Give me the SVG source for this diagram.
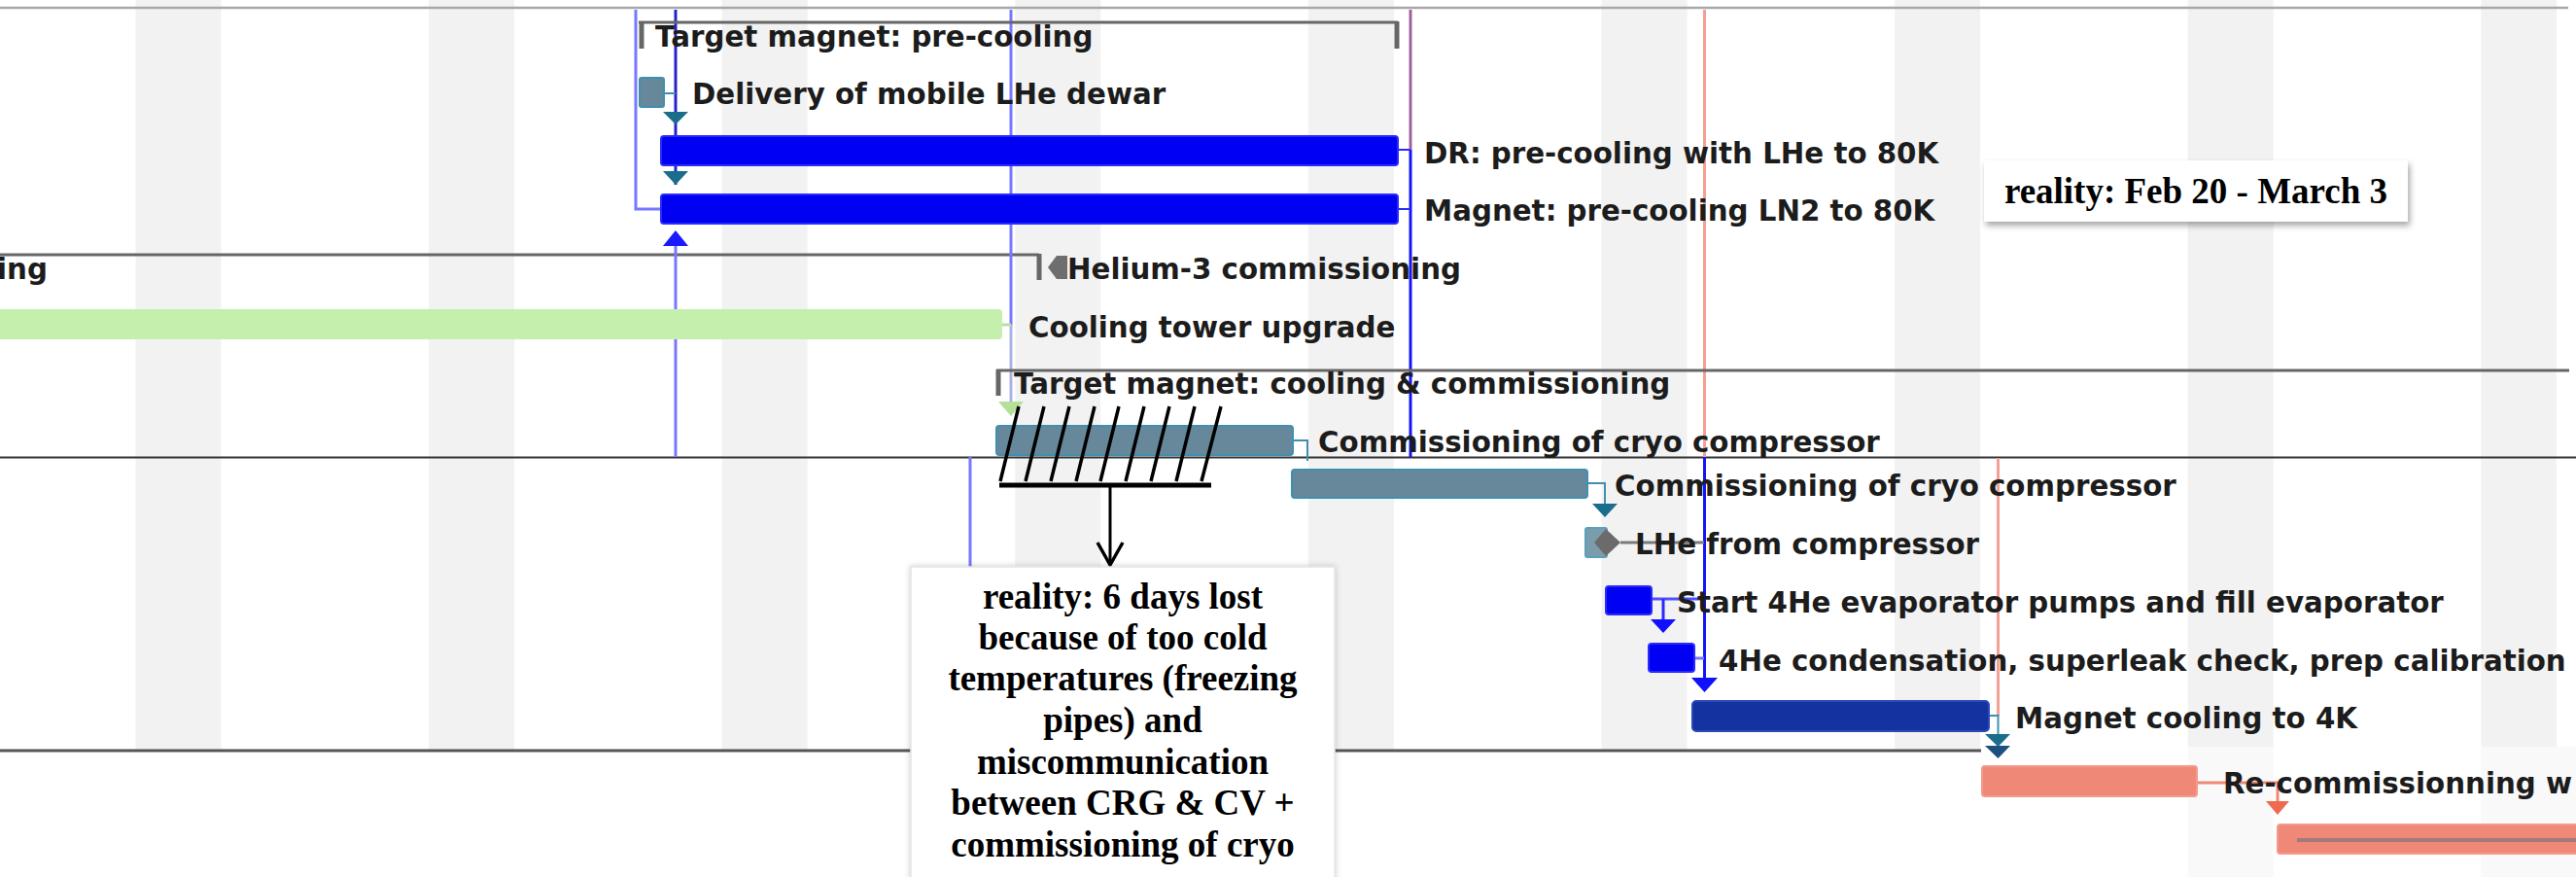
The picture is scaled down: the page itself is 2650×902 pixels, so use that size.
<svg xmlns="http://www.w3.org/2000/svg" width="2650" height="902" viewBox="0 0 2650 902">
<defs>
<style>
.lbl{font-family:"DejaVu Sans",Verdana,sans-serif;font-weight:bold;font-size:29.3px;fill:#1c1c1c}
.note{font-family:"Liberation Serif","Times New Roman",serif;font-weight:bold;font-size:37px;fill:#000;text-anchor:middle}
.stripe{fill:#f2f2f2}
.brk{stroke:#666;stroke-width:3;fill:none}
.tick{stroke:#666;stroke-width:5;fill:none}
.teal{fill:#66889a;stroke:#3f8fb0;stroke-width:2}
.blue{fill:#0000f2;stroke:#2a2aff;stroke-width:2}
.dblue{fill:#1432a0;stroke:#2a4ab8;stroke-width:2}
.salmon{fill:#f08878;stroke:#f39a8c;stroke-width:2}
.lb{stroke:#7777ff;stroke-width:3;fill:none}
.bl{stroke:#1414f5;stroke-width:3;fill:none}
.rd{stroke:#f2a193;stroke-width:3;fill:none}
.tl{stroke:#3f8fb0;stroke-width:2;fill:none}
.ahTeal{fill:#1b6d8c}
.ahBlue{fill:#1010ff}
.hatch{stroke:#000;stroke-width:3.5;fill:none}
</style>
<filter id="sh" x="-10%" y="-10%" width="130%" height="150%"><feDropShadow dx="2" dy="4" stdDeviation="3" flood-color="#000" flood-opacity="0.35"/></filter>
<filter id="sh2" x="-10%" y="-10%" width="130%" height="130%"><feDropShadow dx="0" dy="0" stdDeviation="3" flood-color="#000" flood-opacity="0.2"/></filter>
</defs>

<g id="background">
<rect x="0" y="0" width="2650" height="902" fill="#fff"/>
<rect class="stripe" x="139.5" y="0" width="88" height="902"/>
<rect class="stripe" x="441.1" y="0" width="88" height="902"/>
<rect class="stripe" x="742.7" y="0" width="88" height="902"/>
<rect class="stripe" x="1044.3" y="0" width="88" height="902"/>
<rect class="stripe" x="1345.9" y="0" width="88" height="902"/>
<rect class="stripe" x="1647.5" y="0" width="88" height="902"/>
<rect class="stripe" x="1949.1" y="0" width="88" height="902"/>
<rect class="stripe" x="2250.7" y="0" width="88" height="902"/>
<rect class="stripe" x="2552.3" y="0" width="98" height="902"/>
<rect x="2630" y="0" width="20" height="768" fill="#fff"/>
<rect x="0" y="773" width="2038" height="129" fill="#fff"/>
<rect x="2038" y="768" width="612" height="134" fill="#fff" opacity="0.55"/>
</g>

<g id="separators">
<path d="M0,8 H2642" stroke="#a8a8a8" stroke-width="2.5" fill="none"/>
<path d="M0,262 H1069" class="brk"/>
<path d="M1069,261 V288" class="tick"/>
<path d="M0,470.5 H2650" stroke="#333" stroke-width="2" fill="none"/>
<path d="M0,772 H2038" stroke="#555" stroke-width="3" fill="none"/>
</g>

<g id="connectors">
<path class="lb" d="M654,10 V215 H680"/>
<path d="M695,10 V190" stroke="#2323c8" stroke-width="3" fill="none"/>
<path class="tl" d="M683,96 H695"/>
<polygon class="ahTeal" points="682,115 708,115 695,128"/>
<polygon class="ahTeal" points="682,176 708,176 695,190"/>
<polygon fill="#1a1aff" points="682,253 708,253 695,237"/>
<path class="lb" d="M695,253 V470"/>
<path class="lb" d="M1040,10 V334"/>
<path d="M1040,334 V414" stroke="#aab2e2" stroke-width="3" fill="none"/>
<path d="M1031,334 H1040" stroke="#b8e0a0" stroke-width="3" fill="none"/>
<polygon fill="#b5e09a" points="1027,413 1053,413 1040,428"/>
<path class="lb" d="M998,470 V583"/>
<path d="M1451,10 V154" stroke="#a0609a" stroke-width="3" fill="none"/>
<path class="bl" d="M1451,154 V470"/>
<path d="M1438,154 H1451 M1438,215 H1451" stroke="#2a2aff" stroke-width="2" fill="none"/>
<path class="rd" d="M1753.5,10 V470"/>
<path class="bl" d="M1753.5,470 V697"/>
<polygon class="ahBlue" points="1740,697 1767,697 1753.5,712"/>
<path class="rd" d="M2055.5,471 V737"/>
<path class="tl" d="M2047,736 H2055.5 V756"/>
<polygon class="ahTeal" points="2042,755 2068,755 2055.5,768"/>
<polygon fill="#1b4f7e" points="2042,767 2068,767 2055.5,780"/>
<path class="tl" d="M1331,453 H1345 V474"/>
<path class="tl" d="M1634,497 H1651 V518"/>
<polygon class="ahTeal" points="1638,518 1664,518 1651,532"/>
<path d="M1667,558 H1753" stroke="#7a7a7a" stroke-width="3" fill="none"/>
<path d="M1699,616 H1752" stroke="#5050ff" stroke-width="3" fill="none"/>
<path d="M1711,616 V637" stroke="#2a2aff" stroke-width="3" fill="none"/>
<polygon class="ahBlue" points="1698,637 1724,637 1711,651"/>
<path class="lb" d="M1743,677 H1753"/>
<path d="M2260,805 H2343 V824" stroke="#f08878" stroke-width="3" fill="none"/>
<polygon fill="#ee6a50" points="2331,824 2355,824 2343,838"/>
</g>

<g id="task-target-precooling">
<path class="brk" d="M657,23 H1438"/>
<path class="tick" d="M660,22 V50 M1437,22 V50"/>
<text class="lbl" x="674" y="48">Target magnet: pre-cooling</text>
</g>
<g id="task-delivery">
<rect class="teal" x="658" y="80" width="25" height="30" rx="2"/>
<text class="lbl" x="712" y="107">Delivery of mobile LHe dewar</text>
</g>
<g id="task-dr-precooling">
<rect class="blue" x="680" y="140" width="758" height="30" rx="3"/>
<text class="lbl" x="1465" y="168">DR: pre-cooling with LHe to 80K</text>
</g>
<g id="task-magnet-precooling">
<rect class="blue" x="680" y="200" width="758" height="30" rx="3"/>
<text class="lbl" x="1465" y="227">Magnet: pre-cooling LN2 to 80K</text>
</g>
<g id="group-ing">
<text class="lbl" x="-3" y="287">ing</text>
</g>
<g id="task-helium3">
<polygon fill="#6e6e6e" points="1078,275 1087,263 1098,263 1098,287 1087,287"/>
<text class="lbl" x="1098" y="287">Helium-3 commissioning</text>
</g>
<g id="task-cooling-tower">
<rect x="-6" y="318" width="1037" height="31" rx="4" fill="#c5efad"/>
<text class="lbl" x="1058" y="347">Cooling tower upgrade</text>
</g>
<g id="task-target-cooling">
<path class="brk" d="M1025,381 H2643"/>
<path class="tick" d="M1027,380 V407"/>
<text class="lbl" x="1043" y="405">Target magnet: cooling &amp; commissioning</text>
</g>
<g id="task-cryo1">
<rect class="teal" x="1025" y="438" width="305" height="30" rx="3"/>
<text class="lbl" x="1356" y="465">Commissioning of cryo compressor</text>
</g>
<g id="task-cryo2">
<rect class="teal" x="1329" y="483" width="304" height="29" rx="3"/>
<text class="lbl" x="1661" y="510">Commissioning of cryo compressor</text>
</g>
<g id="task-lhe">
<rect x="1631" y="543" width="22" height="30" rx="2" fill="#7b9cab" stroke="#5aa0bd" stroke-width="2"/>
<polygon fill="#6b6b6b" points="1640,558 1652,544 1667,558 1652,572"/>
<text class="lbl" x="1682" y="570">LHe from compressor</text>
</g>
<g id="task-start-4he">
<rect class="blue" x="1652" y="603" width="47" height="29" rx="3"/>
<text class="lbl" x="1725" y="630">Start 4He evaporator pumps and fill evaporator</text>
</g>
<g id="task-4he-cond">
<rect class="blue" x="1696" y="662" width="47" height="29" rx="3"/>
<text class="lbl" x="1768" y="690">4He condensation, superleak check, prep calibration</text>
</g>
<g id="task-magnet-4k">
<rect class="dblue" x="1741" y="721" width="305" height="31" rx="4"/>
<text class="lbl" x="2073" y="749">Magnet cooling to 4K</text>
</g>
<g id="task-recommissioning">
<rect class="salmon" x="2039" y="788" width="221" height="31" rx="3"/>
<text class="lbl" x="2287" y="816">Re-commissionning w</text>
</g>
<g id="task-next">
<rect class="salmon" x="2343" y="848" width="330" height="30" rx="3"/>
<path d="M2363,864 H2650" stroke="#a27a7a" stroke-width="4" fill="none"/>
</g>

<g id="note-feb">
<rect x="2041" y="165" width="436" height="63" fill="#fff" filter="url(#sh)"/>
<text class="note" x="2259" y="209">reality: Feb 20 - March 3</text>
</g>

<g id="note-delay">
<path class="hatch" d="M1048,418 L1029,495 M1074,418 L1055,495 M1100,418 L1081,495 M1126,418 L1107,495 M1151,418 L1132,495 M1177,418 L1158,495 M1203,418 L1184,495 M1229,418 L1210,495 M1256,418 L1236,495"/>
<path d="M1028,499 H1246" stroke="#000" stroke-width="5" fill="none"/>
<path d="M1142,499 V581" stroke="#000" stroke-width="3" fill="none"/>
<path d="M1129,558 L1142,581 L1155,558" stroke="#000" stroke-width="3.5" fill="none"/>
<rect x="937" y="583" width="436" height="360" fill="#fff" stroke="#e4e4e4" stroke-width="1.5" filter="url(#sh2)"/>
<text class="note" x="1155" y="626">reality: 6 days lost</text>
<text class="note" x="1155" y="668">because of too cold</text>
<text class="note" x="1155" y="710">temperatures (freezing</text>
<text class="note" x="1155" y="753">pipes) and</text>
<text class="note" x="1155" y="796">miscommunication</text>
<text class="note" x="1155" y="838">between CRG &amp; CV +</text>
<text class="note" x="1155" y="881">commissioning of cryo</text>
</g>
</svg>
